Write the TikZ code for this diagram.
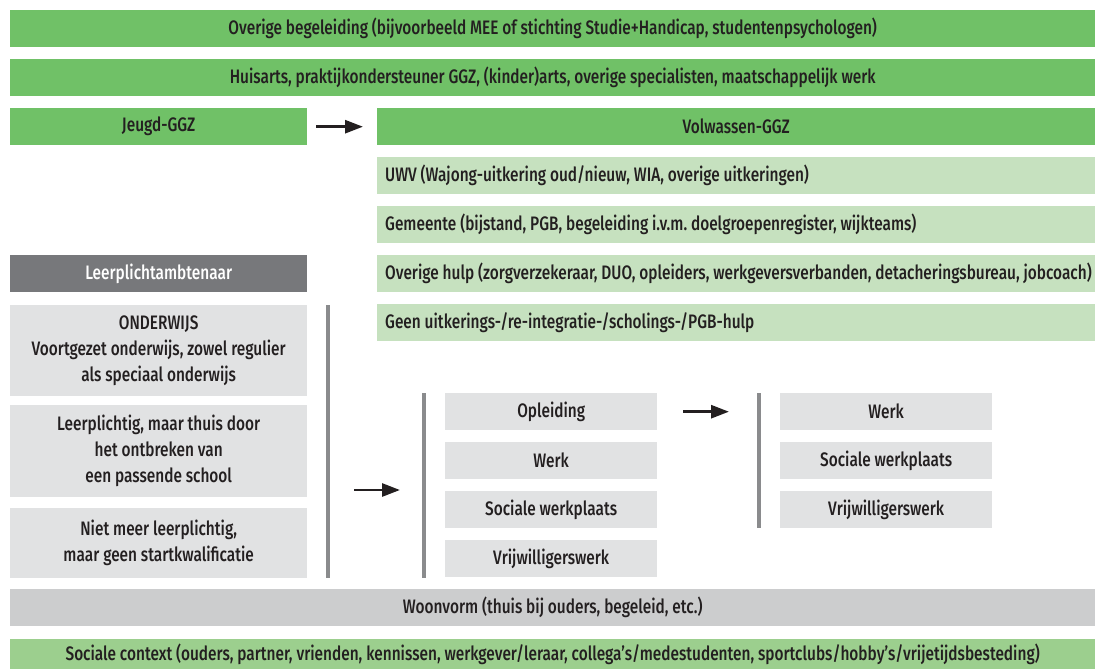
\documentclass[tikz,border=0pt]{standalone}
\usepackage{fontspec}
\setmainfont{Fira Sans}[UprightFont=* Medium, FakeStretch=0.79]
\usetikzlibrary{arrows.meta}
\definecolor{dgreen}{HTML}{70C167}
\definecolor{lgreen}{HTML}{C6E1BF}
\definecolor{mgreen}{HTML}{9CCF8E}
\definecolor{dgray}{HTML}{77787B}
\definecolor{lgray}{HTML}{E1E2E3}
\definecolor{mgray}{HTML}{CCCDCE}
\definecolor{bargray}{HTML}{8A8B8D}
\definecolor{txt}{HTML}{231F20}
\newcommand{\lft}[1]{\makebox[702pt][l]{#1}}
\begin{document}
\begin{tikzpicture}[x=1pt,y=-1pt,
  box/.style={inner sep=0pt, anchor=north west, minimum height=37pt, text=txt,
    font=\fontsize{19.5}{26}\selectfont},
  cbox/.style={box, align=center},
  lbox/.style={box, inner xsep=8pt},
  darkg/.style={fill=dgreen},
  lightg/.style={fill=lgreen},
  midg/.style={fill=mgreen},
  darkgr/.style={fill=dgray, text=white},
  lightgr/.style={fill=lgray},
  midgr/.style={fill=mgray},
  bar/.style={draw=bargray, line width=4pt},
  arr/.style={draw=txt, line width=2.8pt, -{Triangle[length=18pt,width=13pt]}}
]
\useasboundingbox (0,0) rectangle (1095,669);
% top rows
\node[cbox, darkg, minimum width=1085pt] (overig) at (10,10) {Overige begeleiding (bijvoorbeeld MEE of stichting Studie+Handicap, studentenpsychologen)};
\node[cbox, darkg, minimum width=1085pt] (huisarts) at (10,59) {Huisarts, praktijkondersteuner GGZ, (kinder)arts, overige specialisten, maatschappelijk werk};
\node[cbox, darkg, minimum width=297pt] (jeugd) at (10,108) {Jeugd-GGZ};
\node[cbox, darkg, minimum width=718pt] (volw) at (377,108) {Volwassen-GGZ};
\draw[arr] ([xshift=9pt]jeugd.east) -- ([xshift=-14pt]volw.west);
% right light green rows
\node[lbox, lightg] (uwv) at (377,157) {\lft{UWV (Wajong-uitkering oud/nieuw, WIA, overige uitkeringen)}};
\node[lbox, lightg] (gem) at (377,206) {\lft{Gemeente (bijstand, PGB, begeleiding i.v.m.\ doelgroepenregister, wijkteams)}};
\node[lbox, lightg] (hulp) at (377,255) {\lft{Overige hulp (zorgverzekeraar, DUO, opleiders, werkgeversverbanden, detacheringsbureau, jobcoach)}};
\node[lbox, lightg] (geen) at (377,304) {\lft{Geen uitkerings-/re-integratie-/scholings-/PGB-hulp}};
% left column
\node[cbox, darkgr, minimum width=297pt] (leer) at (10,255) {Leerplichtambtenaar};
\node[cbox, lightgr, minimum width=297pt, minimum height=91pt] (ond) at (10,305) {ONDERWIJS\\Voortgezet onderwijs, zowel regulier\\als speciaal onderwijs};
\node[cbox, lightgr, minimum width=297pt, minimum height=92pt] (thuis) at (10,405) {Leerplichtig, maar thuis door\\het ontbreken van\\een passende school};
\node[cbox, lightgr, minimum width=297pt, minimum height=70pt] (niet) at (10,508) {Niet meer leerplichtig,\\maar geen startkwalificatie};
% bars
\coordinate (b1t) at (328,305); \coordinate (b1b) at (328,578);
\draw[bar] (b1t) -- (b1b);
\coordinate (b2t) at (424,393); \coordinate (b2b) at (424,578);
\draw[bar] (b2t) -- (b2b);
\coordinate (b3t) at (759,393); \coordinate (b3b) at (759,528);
\draw[bar] (b3t) -- (b3b);
% middle column
\node[cbox, lightgr, minimum width=212pt] (opl) at (445,393) {Opleiding};
\node[cbox, lightgr, minimum width=212pt] (werk1) at (445,442) {Werk};
\node[cbox, lightgr, minimum width=212pt] (sw1) at (445,491) {Sociale werkplaats};
\node[cbox, lightgr, minimum width=212pt] (vw1) at (445,540) {Vrijwilligerswerk};
% right column
\node[cbox, lightgr, minimum width=212pt] (werk2) at (780,393) {Werk};
\node[cbox, lightgr, minimum width=212pt] (sw2) at (780,442) {Sociale werkplaats};
\node[cbox, lightgr, minimum width=212pt] (vw2) at (780,491) {Vrijwilligerswerk};
% arrows
\coordinate (a1s) at (354,490); \coordinate (a1e) at (400,490);
\draw[arr] (a1s) -- (a1e);
\draw[arr] ([xshift=26pt]opl.east) -- ([xshift=-51pt]werk2.west);
% bottom rows
\node[cbox, midgr, minimum width=1085pt] (woon) at (10,589) {Woonvorm (thuis bij ouders, begeleid, etc.)};
\node[cbox, midg, minimum width=1085pt, minimum height=30pt] (soc) at (10,639) {Sociale context (ouders, partner, vrienden, kennissen, werkgever/leraar, collega’s/medestudenten, sportclubs/hobby’s/vrijetijdsbesteding)};
\end{tikzpicture}
\end{document}
